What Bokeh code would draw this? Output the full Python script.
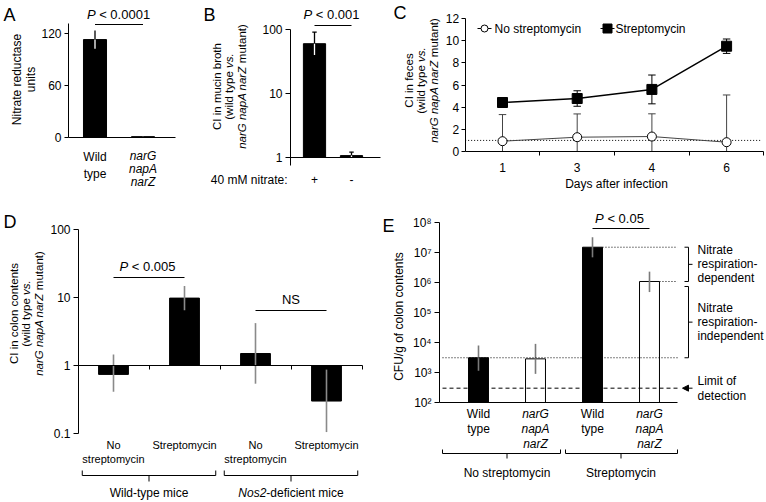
import math
from bokeh.plotting import figure
from bokeh.layouts import row, column
from bokeh.models import (Label, LinearAxis, LogAxis, FixedTicker, CustomJSTickFormatter,
                          Range1d, Arrow, NormalHead)
from bokeh.embed import file_html
from bokeh.resources import INLINE

FONT = "Liberation Sans"

# ---------------- data ----------------
a_strains = ["Wild type", "narG napA narZ"]
a_units = [113, 1]
a_sd = [10.5, 0.3]

b_nitrate = ["+", "-"]
b_ci = [60, 1.07]
b_ci_hi = [91, 1.21]
b_ci_lo = [40, 1.0]

c_days = ["1", "3", "4", "6"]
c_nostrep = [0.93, 1.29, 1.35, 0.84]
c_nostrep_err = [2.4, 2.1, 2.05, 4.26]
c_strep = [4.42, 4.78, 5.6, 9.5]
c_strep_err = [0.1, 0.7, 1.3, 0.65]

d_groups = ["No streptomycin", "Streptomycin", "No streptomycin", "Streptomycin"]
d_mice = ["Wild-type mice", "Nos2-deficient mice"]
d_ci = [0.74, 9.8, 1.5, 0.30]
d_ci_lo = [0.41, 6.5, 0.54, 0.105]
d_ci_hi = [1.45, 14.8, 4.2, 0.87]

e_strains = ["Wild type", "narG napA narZ", "Wild type", "narG napA narZ"]
e_treat = ["No streptomycin", "Streptomycin"]
e_cfu = [3100, 2850, 1.5e7, 1.08e6]
e_cfu_lo = [1150, 900, 6.9e6, 4.8e5]
e_cfu_hi = [7900, 9000, 3.2e7, 2.3e6]
e_limit = 300

# ---------------- helpers ----------------
AW = {' ': 278, '(': 333, ')': 333, '+': 584, ',': 278, '-': 333, '.': 278, '/': 278,
      ':': 278, '<': 584}
for _d in "0123456789":
    AW[_d] = 556
AW.update(dict(A=667, B=667, C=722, D=722, E=667, F=611, G=778, H=722, I=278, J=500, K=667,
               L=556, M=833, N=722, O=778, P=667, Q=778, R=722, S=667, T=611, U=722, V=667,
               W=944, X=667, Y=667, Z=611))
AW.update(dict(a=556, b=556, c=500, d=556, e=556, f=278, g=556, h=556, i=222, j=222, k=500,
               l=222, m=833, n=556, o=556, p=556, q=556, r=333, s=500, t=278, u=556, v=500,
               w=722, x=500, y=500, z=500))


def tw(s, size):
    return sum(AW.get(ch, 556) for ch in s) * size / 1000.0


class Panel:
    """A figure whose frame fills its whole box; page-pixel <-> data helpers."""

    def __init__(self, box, xref, yref, ylog=False):
        self.x0, self.y0, self.w, self.h = box
        (px1, v1), (px2, v2) = xref
        self.xk = (px2 - px1) / (v2 - v1)
        self.xp1, self.xv1 = px1, v1
        self.ylog = ylog
        f = math.log10 if ylog else (lambda z: z)
        (py1, u1), (py2, u2) = yref
        self.yk = (py2 - py1) / (f(u2) - f(u1))
        self.yp1, self.yf1 = py1, f(u1)
        self.p = figure(width=self.w, height=self.h,
                        x_range=Range1d(self.X(self.x0), self.X(self.x0 + self.w)),
                        y_range=Range1d(self.Y(self.y0 + self.h), self.Y(self.y0)),
                        y_axis_type="log" if ylog else "linear", title=None,
                        x_axis_location=None, y_axis_location=None,
                        output_backend="svg", toolbar_location=None, tools="",
                        min_border_left=0, min_border_right=0, min_border_top=0,
                        min_border_bottom=0)
        self.p.outline_line_color = None
        self.p.grid.visible = False
        self.p.background_fill_color = "white"
        self.p.border_fill_color = "white"

    def X(self, px):
        return self.xv1 + (px - self.xp1) / self.xk

    def Y(self, py):
        t = self.yf1 + (py - self.yp1) / self.yk
        return 10 ** t if self.ylog else t

    def PX(self, x):
        return self.xp1 + (x - self.xv1) * self.xk

    def PY(self, v):
        t = math.log10(v) if self.ylog else v
        return self.yp1 + (t - self.yf1) * self.yk

    def text(self, x, y, segs, size=12, align="center", vertical=False):
        """Mixed-style text run; x, y = page px of the centre line of the run."""
        if isinstance(segs, str):
            segs = [(segs, False)]
        total = sum(tw(t, size) for t, _ in segs)
        start = {"center": -total / 2, "right": -total, "left": 0}[align]
        fl, fb = self.x0, self.y0 + self.h
        cum = start
        for t, it in segs:
            lead = len(t) - len(t.lstrip(" "))
            off = cum + tw(" " * lead, size)
            s = t.strip(" ")
            if s:
                if vertical:
                    sx, sy = x - fl, fb - (y - off)
                else:
                    sx, sy = x + off - fl, fb - y
                self.p.add_layout(Label(x=sx, y=sy, x_units="screen", y_units="screen", text=s,
                                        text_font=FONT, text_font_size=f"{size}px",
                                        text_font_style="italic" if it else "normal",
                                        text_align="left", text_baseline="middle",
                                        angle=math.pi / 2 if vertical else 0,
                                        text_color="black"))
            cum += tw(t, size)

    def ylabel3(self, xs, yc, first, size=11.5):
        """Three-line rotated CI axis title."""
        self.text(xs[0], yc, first, size=size, vertical=True)
        self.text(xs[1], yc, [("(wild type", False), (" vs.", True)], size=size, vertical=True)
        self.text(xs[2], yc, [("narG napA narZ", True), (" mutant)", False)], size=size,
                  vertical=True)


def style_axis(ax, size=12, tick=4, standoff=3):
    ax.axis_line_color = "black"
    ax.axis_line_width = 1
    ax.major_tick_line_color = "black"
    ax.major_tick_in = 0
    ax.major_tick_out = tick
    ax.minor_tick_line_color = None
    ax.major_label_text_font = FONT
    ax.major_label_text_font_size = f"{size}px"
    ax.major_label_text_color = "black"
    ax.major_label_standoff = standoff
    return ax


def boundary_ticks(ax, out=4):
    ax.minor_tick_line_color = "black"
    ax.minor_tick_in = 0
    ax.minor_tick_out = out


PLAIN_LOG = "return (tick < 1) ? tick.toFixed(1) : String(Math.round(tick));"
SUP_LOG = ("const s = {'2':'\u00b2','3':'\u00b3','4':'\u2074','5':'\u2075','6':'\u2076',"
           "'7':'\u2077','8':'\u2078'}; const e = Math.round(Math.log10(tick)); return '10' + s[String(e)];")

# ================= Panel A =================
A = Panel((0, 0, 180, 195), ((94.5, 1), (142.5, 2)), ((137, 0), (33, 120)))
pa = A.p
xa = [1, 2]
pa.vbar(x=xa, top=a_units, bottom=0, width=0.48, fill_color="black", line_color="black")
pa.segment(x0=xa, y0=a_units, x1=xa, y1=[v + e for v, e in zip(a_units, a_sd)],
           line_color="black", line_width=1.3)
pa.segment(x0=xa, y0=[v - e for v, e in zip(a_units, a_sd)], x1=xa, y1=a_units,
           line_color="white", line_width=1.3)
ay = style_axis(LinearAxis(ticker=FixedTicker(ticks=[0, 60, 120]), fixed_location=A.X(68)))
ay.bounds = (0, A.Y(23))
pa.add_layout(ay, "left")
axx = style_axis(LinearAxis(ticker=FixedTicker(ticks=[]), fixed_location=0))
axx.bounds = (A.X(68), A.X(175))
pa.add_layout(axx, "below")
pa.segment(x0=[xa[0]], y0=[A.Y(24)], x1=[xa[1]], y1=[A.Y(24)], line_color="black", line_width=1)
A.text(118, 14, [("P", True), (" < 0.0001", False)], size=13)
A.text(3, 14, "A", size=18, align="left")
A.text(16, 79, "Nitrate reductase", size=12, vertical=True)
A.text(30, 79, "units", size=12, vertical=True)
A.text(A.PX(xa[0]), 156, "Wild", size=12)
A.text(A.PX(xa[0]), 173, "type", size=12)
for i, w in enumerate(a_strains[1].split()):
    A.text(A.PX(xa[1]), 155 + 13 * i, [(w, True)], size=12)

# ================= Panel B =================
B = Panel((180, 0, 205, 195), ((314, 1), (351, 2)), ((157, 1), (29, 100)), ylog=True)
pb = B.p
xb = [1, 2]
pb.vbar(x=xb, top=b_ci, bottom=1, width=0.6, fill_color="black", line_color="black")
pb.segment(x0=xb, y0=b_ci, x1=xb, y1=b_ci_hi, line_color="black", line_width=1.3)
pb.segment(x0=xb, y0=b_ci_lo, x1=xb, y1=b_ci, line_color="white", line_width=1.3)
pb.segment(x0=[x - 0.06 for x in xb], y0=b_ci_hi, x1=[x + 0.06 for x in xb], y1=b_ci_hi,
           line_color="black", line_width=1.2)
by = style_axis(LogAxis(ticker=FixedTicker(ticks=[1, 10, 100]), fixed_location=B.X(290),
                        formatter=CustomJSTickFormatter(code=PLAIN_LOG)), tick=5)
by.bounds = (B.Y(165), 100)
pb.add_layout(by, "left")
bx = style_axis(LinearAxis(ticker=FixedTicker(ticks=[]), fixed_location=1))
bx.bounds = (B.X(290), B.X(380))
pb.add_layout(bx, "below")
pb.segment(x0=[xb[0]], y0=[B.Y(25)], x1=[xb[1]], y1=[B.Y(25)], line_color="black", line_width=1)
B.text(331, 14, [("P", True), (" < 0.001", False)], size=13)
B.text(203, 14, "B", size=18, align="left")
B.ylabel3((216, 228.5, 241), 86, "CI in mucin broth")
B.text(287, 179, "40 mM nitrate:", size=12, align="right")
for x, s in zip(xb, b_nitrate):
    B.text(B.PX(x), 179, s, size=12)

# ================= Panel C =================
C = Panel((385, 0, 381, 195), ((502, 1), (576.7, 2)), ((151, 0), (18, 12)))
pc = C.p
xc = [1, 2, 3, 4]
cap = 0.05
ns_hi = [v + e for v, e in zip(c_nostrep, c_nostrep_err)]
ns_lo = [max(v - e, 0) for v, e in zip(c_nostrep, c_nostrep_err)]
st_hi = [v + e for v, e in zip(c_strep, c_strep_err)]
st_lo = [v - e for v, e in zip(c_strep, c_strep_err)]
pc.segment(x0=[0.5], y0=[1], x1=[C.X(761)], y1=[1], line_color="black", line_width=1,
           line_dash="1 2")
for hi, lo, col in ((ns_hi, ns_lo, "#444444"), (st_hi, st_lo, "black")):
    pc.segment(x0=xc, y0=lo, x1=xc, y1=hi, line_color=col, line_width=1)
    pc.segment(x0=[x - cap for x in xc], y0=hi, x1=[x + cap for x in xc], y1=hi,
               line_color=col, line_width=1)
    pc.segment(x0=[x - cap for x in xc], y0=lo, x1=[x + cap for x in xc], y1=lo,
               line_color=col, line_width=1)
pc.line(xc, c_nostrep, line_color="#444444", line_width=1)
pc.scatter(xc, c_nostrep, marker="circle", size=9, fill_color="white", line_color="black",
           line_width=1)
pc.line(xc, c_strep, line_color="black", line_width=1.5)
pc.scatter(xc, c_strep, marker="square", size=10, fill_color="black", line_color="black")
cy = style_axis(LinearAxis(ticker=FixedTicker(ticks=list(range(0, 13, 2))), fixed_location=0.5),
                standoff=2)
cy.bounds = (0, 12)
pc.add_layout(cy, "left")
cx = style_axis(LinearAxis(ticker=FixedTicker(ticks=xc, minor_ticks=[1.5, 2.5, 3.5, 4.5]),
                           fixed_location=0), tick=0, standoff=7)
cx.bounds = (0.5, 4.5)
boundary_ticks(cx)
cx.major_label_overrides = {x: d for x, d in zip(xc, c_days)}
pc.add_layout(cx, "below")
# legend (drawn by hand)
ly = C.Y(28)
pc.segment(x0=[C.X(477), C.X(600)], y0=[ly, ly], x1=[C.X(491), C.X(614)], y1=[ly, ly],
           line_color="black", line_width=1)
pc.scatter([C.X(484)], [ly], marker="circle", size=7, fill_color="white", line_color="black")
pc.scatter([C.X(607)], [ly], marker="square", size=9, fill_color="black", line_color="black")
C.text(494, 28, "No streptomycin", size=12, align="left")
C.text(615, 28, "Streptomycin", size=12, align="left")
C.text(393, 12, "C", size=18, align="left")
C.ylabel3((408, 420.5, 433), 80, "CI in feces")
C.text(616, 183, "Days after infection", size=12)

# ================= Panel D =================
D = Panel((0, 195, 380, 307), ((113, 1), (184, 2)), ((365, 1), (229, 100)), ylog=True)
pd_ = D.p
xd = [1, 2, 3, 4]
pd_.vbar(x=xd, top=d_ci, bottom=1, width=0.42, fill_color="black", line_color="black")
pd_.segment(x0=xd, y0=d_ci_lo, x1=xd, y1=d_ci_hi, line_color="#8a8a8a", line_width=1.6)
dy_ax = style_axis(LogAxis(ticker=FixedTicker(ticks=[0.1, 1, 10, 100]), fixed_location=D.X(78),
                           formatter=CustomJSTickFormatter(code=PLAIN_LOG)), tick=5)
dy_ax.bounds = (0.1, 100)
pd_.add_layout(dy_ax, "left")
dx_ax = style_axis(LinearAxis(ticker=FixedTicker(ticks=[], minor_ticks=[1.5, 2.5, 3.5, 4.5]),
                              fixed_location=1))
boundary_ticks(dx_ax)
dx_ax.bounds = (D.X(78), 4.5)
pd_.add_layout(dx_ax, "below")
pd_.segment(x0=[xd[0], xd[2]], y0=[D.Y(277), D.Y(310)], x1=[xd[1], xd[3]],
            y1=[D.Y(277), D.Y(310)], line_color="black", line_width=1)
D.text(147, 266, [("P", True), (" < 0.005", False)], size=13)
D.text(D.PX(3.5), 299, "NS", size=13)
for x, g in zip(xd, d_groups):
    if g.startswith("No"):
        D.text(D.PX(x), 444, "No", size=11)
        D.text(D.PX(x), 458, "streptomycin", size=11)
    else:
        D.text(D.PX(x), 444, g, size=11)
for (a, b), mice in zip(((1, 2), (3, 4)), d_mice):
    x0 = a - 0.44
    x1 = b + 0.44
    xm = (a + b) / 2
    pd_.multi_line(xs=[[x0, x0, x1, x1], [xm, xm]],
                   ys=[[D.Y(470), D.Y(475), D.Y(475), D.Y(470)], [D.Y(475), D.Y(481)]],
                   line_color="black", line_width=1)
    if mice.startswith("Nos2"):
        D.text(D.PX(xm), 492, [("Nos2", True), (mice[4:], False)], size=12)
    else:
        D.text(D.PX(xm), 492, mice, size=12)
D.text(3, 221, "D", size=18, align="left")
D.ylabel3((13, 25.5, 38), 313, "CI in colon contents")

# ================= Panel E =================
E = Panel((380, 195, 386, 307), ((478, 1), (535, 2)), ((402, 100), (222, 1e8)), ylog=True)
pe = E.p
xe = [1, 2, 3, 4]
bw = 0.35
pe.vbar(x=xe, top=e_cfu, bottom=100, width=bw,
        fill_color=["black", "white", "black", "white"], line_color="black", line_width=1)
pe.segment(x0=xe, y0=e_cfu_lo, x1=xe, y1=e_cfu_hi, line_color="#7a7a7a", line_width=1.6)
ey_ax = style_axis(LogAxis(ticker=FixedTicker(ticks=[1e2, 1e3, 1e4, 1e5, 1e6, 1e7, 1e8]),
                           fixed_location=E.X(439),
                           formatter=CustomJSTickFormatter(code=SUP_LOG)), tick=5)
ey_ax.bounds = (100, 1e8)
pe.add_layout(ey_ax, "left")
ex_ax = style_axis(LinearAxis(ticker=FixedTicker(ticks=[]), fixed_location=100))
x_end = E.X(677)
ex_ax.bounds = (E.X(439), x_end)
pe.add_layout(ex_ax, "below")
pe.segment(x0=[xe[2] + bw / 2, xe[3] + bw / 2, E.X(442)], y0=[e_cfu[2], e_cfu[3], e_cfu[0]],
           x1=[x_end, x_end, x_end], y1=[e_cfu[2], e_cfu[3], e_cfu[0]],
           line_color="black", line_width=1, line_dash="1 2")
pe.segment(x0=[E.X(442)], y0=[e_limit], x1=[x_end], y1=[e_limit],
           line_color="black", line_width=1, line_dash="4 3")
pe.add_layout(Arrow(end=NormalHead(size=6, fill_color="black", line_color="black"),
                    x_start=E.X(692), y_start=e_limit, x_end=E.X(682), y_end=e_limit,
                    line_color="black", line_width=1))
b1_top, b1_bot = E.PY(e_cfu[2]), E.PY(e_cfu[3])
b2_top, b2_bot = E.PY(e_cfu[3]) + 5, E.PY(e_cfu[0])
for t, b in ((b1_top, b1_bot), (b2_top, b2_bot)):
    m = (t + b) / 2
    pe.multi_line(xs=[[E.X(684), E.X(688), E.X(688), E.X(684)], [E.X(688), E.X(692)]],
                  ys=[[E.Y(t), E.Y(t), E.Y(b), E.Y(b)], [E.Y(m), E.Y(m)]],
                  line_color="black", line_width=1)
for y0, lines in (((b1_top + b1_bot) / 2, ["Nitrate", "respiration-", "dependent"]),
                  ((b2_top + b2_bot) / 2, ["Nitrate", "respiration-", "independent"])):
    for i, s in enumerate(lines):
        E.text(697, y0 + (i - 1) * 14, s, size=12, align="left")
E.text(697, E.PY(e_limit) - 7.5, "Limit of", size=12, align="left")
E.text(697, E.PY(e_limit) + 7.5, "detection", size=12, align="left")
pe.segment(x0=[xe[2]], y0=[E.Y(228)], x1=[xe[3]], y1=[E.Y(228)], line_color="black",
           line_width=1)
E.text(619, 218, [("P", True), (" < 0.05", False)], size=13)
for x, s in zip(xe, e_strains):
    px = E.PX(x)
    if s.startswith("Wild"):
        E.text(px, 413, "Wild", size=12)
        E.text(px, 428, "type", size=12)
    else:
        for i, w in enumerate(s.split()):
            E.text(px, 413 + 15 * i, [(w, True)], size=12)
for (a, b), label in zip(((1, 2), (3, 4)), e_treat):
    x0, x1 = (E.X(442), E.X(560)) if a == 1 else (E.X(565), E.X(677))
    xm = (a + b) / 2
    pe.multi_line(xs=[[x0, x0, x1, x1], [xm, xm]],
                  ys=[[E.Y(449), E.Y(453), E.Y(453), E.Y(449)], [E.Y(453), E.Y(458)]],
                  line_color="black", line_width=1)
    E.text(E.PX(xm), 472, label, size=12)
E.text(382, 225, "E", size=18, align="left")
E.text(398, 316, "CFU/g of colon contents", size=12, vertical=True)

layout = column(row(pa, pb, pc), row(pd_, pe))
open("out.html", "w").write(file_html(layout, INLINE))
